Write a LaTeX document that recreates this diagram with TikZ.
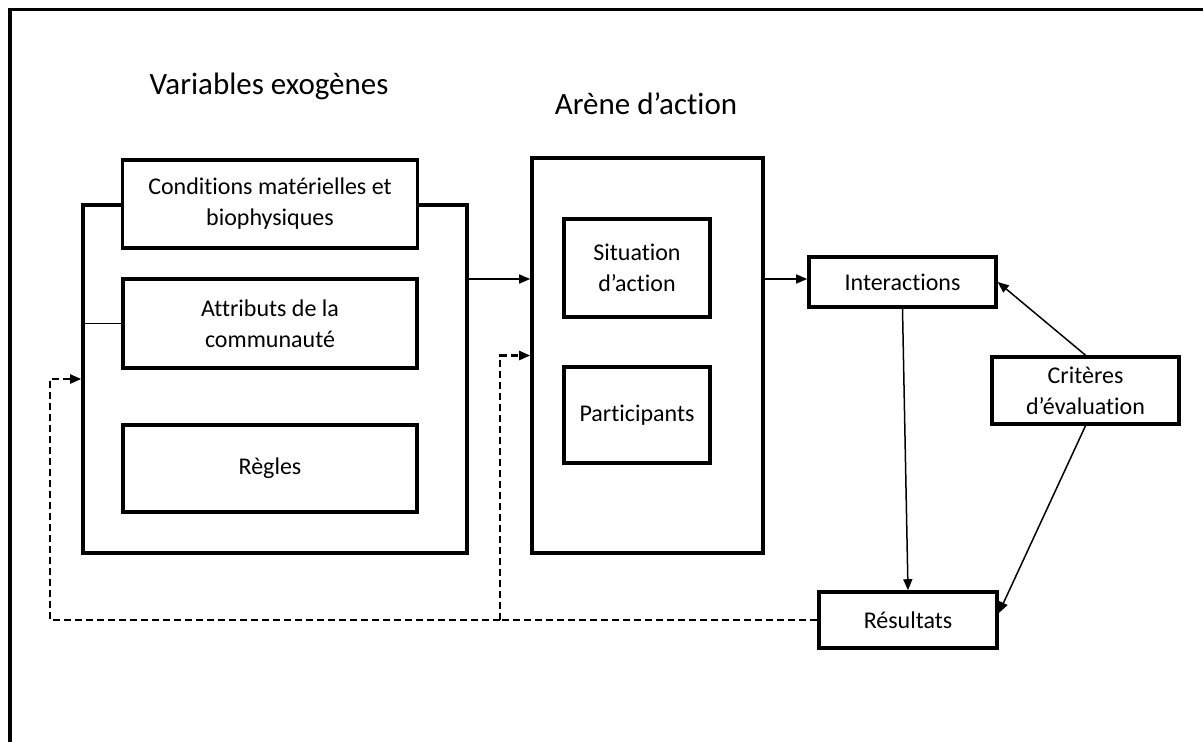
\documentclass[tikz,border=0pt]{standalone}
\usepackage{fontspec}
\setmainfont{Carlito}[Ligatures=NoCommon]
\usetikzlibrary{arrows.meta}
\begin{document}
\begin{tikzpicture}[x=1pt,y=-1pt,
  box/.style={draw,line width=3.6pt,fill=white,inner sep=0pt,align=center,font=\fontsize{24}{31}\selectfont},
  frame/.style={draw,line width=3.6pt,inner sep=0pt},
  title/.style={inner sep=0pt,font=\fontsize{31}{37}\selectfont},
  arr/.style={line width=1.5pt,-{Triangle[length=11pt,width=9pt]}},
  dsh/.style={line width=2.2pt,dash pattern=on 7pt off 4pt},
  darr/.style={dsh,-{Triangle[length=11pt,width=9pt]}}]
\useasboundingbox (0,0) rectangle (1203,742);
% outer frame (only top and left visible)
\draw[line width=3.6pt] (10,760) -- (10,9.5) -- (1215,9.5);
% titles
\node[title] (t1) at (269,86) {Variables exogènes};
\node[title] (t2) at (646,104) {Arène d’action};
% big boxes
\node[frame,minimum width=384pt,minimum height=348pt] (big) at (275,379) {};
\node[frame,minimum width=231pt,minimum height=395pt] (arena) at (647.5,355.5) {};
% inner boxes
\node[box,minimum width=295pt,minimum height=88pt] (cond) at (270,204) {Conditions matérielles et\\biophysiques};
\node[box,minimum width=294pt,minimum height=89pt] (attr) at (270,323.5) {Attributs de la\\communauté};
\node[box,minimum width=294pt,minimum height=87pt] (regl) at (270,468.5) {Règles};
\node[box,minimum width=146pt,minimum height=98pt] (sit) at (637,268) {Situation\\d’action};
\node[box,minimum width=146pt,minimum height=96pt] (part) at (637,415) {Participants};
\node[box,minimum width=187pt,minimum height=50pt] (inter) at (902.5,282) {Interactions};
\node[box,minimum width=178pt,minimum height=56pt] (res) at (908,620) {Résultats};
\node[box,minimum width=187pt,minimum height=67pt] (crit) at (1085.5,390.5) {Critères\\d’évaluation};
% helper coordinates
\coordinate (y279) at (0,279);
\coordinate (j) at (500,620);
\coordinate (k) at (50,620);
% connectors
\draw[line width=1.5pt] (big.west |- attr.west) -- (attr.west);
\draw[arr] (big.east |- y279) -- (arena.west |- y279);
\draw[arr] (arena.east |- y279) -- (inter.west |- y279);
\draw[arr] (inter.south) -- (res.north);
\draw[arr] (crit.north) -- (inter.east);
\draw[arr] (crit.south) -- ([yshift=7pt]res.east);
\draw[dsh] (res.west) -- (j);
\draw[darr] (j) |- (arena.west);
\draw[darr] (j) -- (k) |- (big.west);
\end{tikzpicture}
\end{document}
